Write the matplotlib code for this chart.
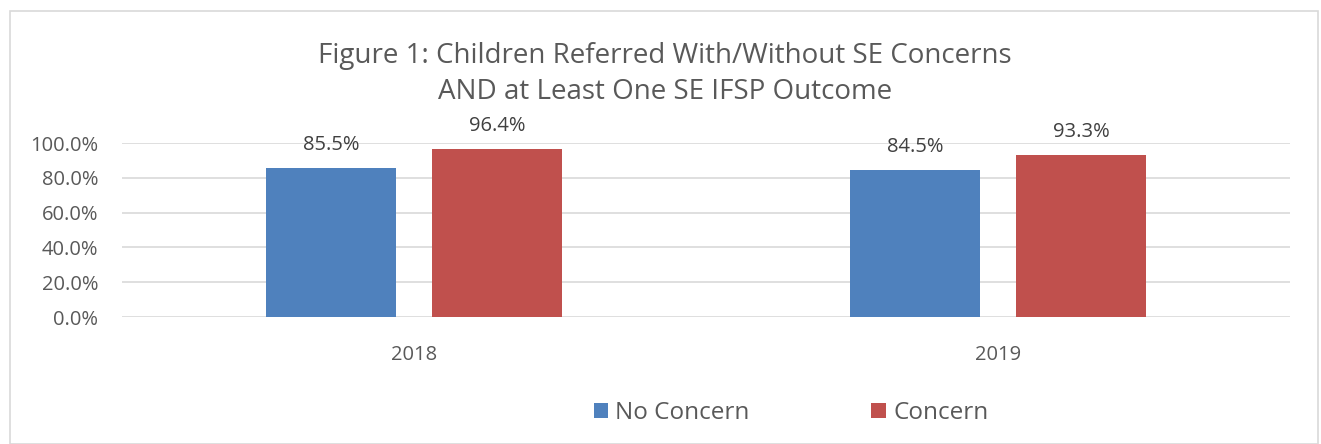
import matplotlib
matplotlib.use("Agg")
import matplotlib.pyplot as plt
import numpy as np
from matplotlib.patches import Rectangle

plt.rcParams['font.family'] = ['Open Sans', 'DejaVu Sans']

categories = ["2018", "2019"]
series_names = ["No Concern", "Concern"]
no_concern = [0.855, 0.845]
concern = [0.964, 0.933]
colors = ["#4F81BD", "#C0504D"]
yticks = [0.0, 0.2, 0.4, 0.6, 0.8, 1.0]
title = "Figure 1: Children Referred With/Without SE Concerns\nAND at Least One SE IFSP Outcome"

fig = plt.figure(figsize=(13.21, 4.44), dpi=100)
fig.patches.append(Rectangle((10/1321, 0.0), (1318-10)/1321, 1 - 11/444, transform=fig.transFigure,
                             fill=False, edgecolor="#D9D9D9", linewidth=1.2))
ax = fig.add_axes([122/1321, 1-317/444, (1290-122)/1321, (317-143)/444])

x = np.arange(len(categories))
w = 0.224
off = 0.142
for vals, name, c, o in [(no_concern, series_names[0], colors[0], -off), (concern, series_names[1], colors[1], off)]:
    bars = ax.bar(x + o, vals, w, color=c, label=name, zorder=3)
    for b, v in zip(bars, vals):
        ax.text(b.get_x() + b.get_width()/2, v + 0.075, f"{v*100:.1f}%", ha="center", va="bottom",
                fontsize=14.5, color="#404040")

ax.set_xlim(-0.5, 1.5)
ax.set_ylim(0, 1.0)
ax.set_yticks(yticks)
ax.set_yticklabels([f"{t*100:.1f}%" for t in yticks], fontsize=14.5, color="#595959")
ax.set_xticks(x)
ax.set_xticklabels(categories, fontsize=14.5, color="#595959")
ax.tick_params(axis="both", length=0)
ax.tick_params(axis="x", pad=20)
ax.tick_params(axis="y", pad=17)
ax.grid(axis="y", color="#D9D9D9", linewidth=1.2, zorder=0)
for s in ax.spines.values():
    s.set_visible(False)

fig.text(665/1321, 1-74/444, title, ha="center", va="center", fontsize=20, color="#595959",
         linespacing=1.4)

leg = fig.legend(loc="center", bbox_to_anchor=(791/1321, 1-413/444), ncol=2, frameon=False,
                 fontsize=17.5, handlelength=0.6, handleheight=0.6, handletextpad=0.3,
                 columnspacing=5.0)
for t in leg.get_texts():
    t.set_color("#595959")

fig.savefig("out.png", dpi=100)
